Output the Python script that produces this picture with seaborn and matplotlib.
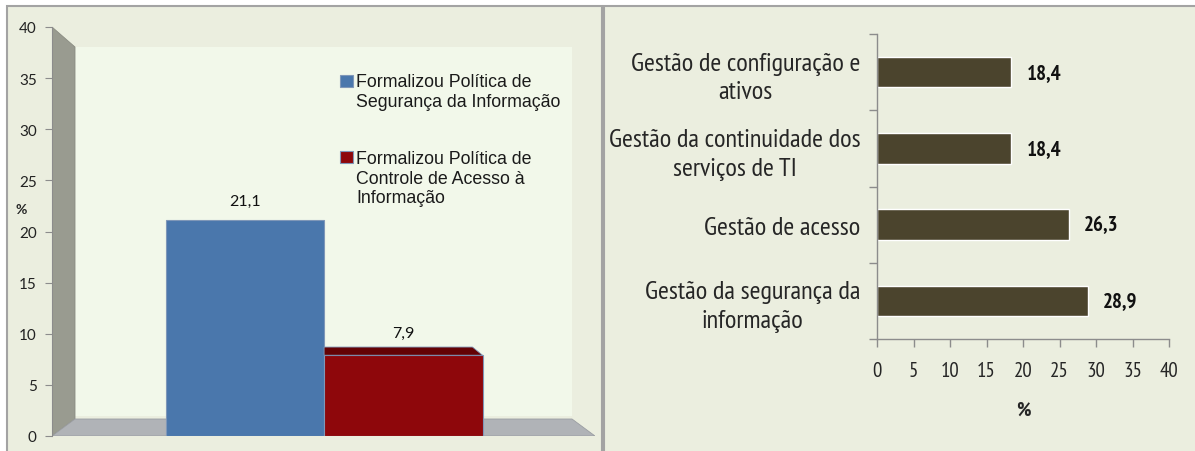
import matplotlib
matplotlib.use("Agg")
import matplotlib.pyplot as plt
import matplotlib.patches as mpatches
from matplotlib.legend_handler import HandlerBase
import numpy as np
import pandas as pd
import seaborn as sns

# data
left_series = ["Formalizou Política de\nSegurança da Informação",
               "Formalizou Política de\nControle de Acesso à\nInformação"]
left_values = [21.1, 7.9]
left_colors = ["#4A77AC", "#8E070B"]

right_categories = ["Gestão de configuração e\nativos",
                    "Gestão da continuidade dos\nserviços de TI",
                    "Gestão de acesso",
                    "Gestão da segurança da\ninformação"]
right_values = [18.4, 18.4, 26.3, 28.9]
right_color = "#4B442D"

y_ticks_left = [0, 5, 10, 15, 20, 25, 30, 35, 40]
x_ticks_right = [0, 5, 10, 15, 20, 25, 30, 35, 40]

W, H = 1195, 452
sns.set_theme(style="white")
plt.rcParams["font.family"] = ["Liberation Sans", "DejaVu Sans"]

fig = plt.figure(figsize=(W / 100, H / 100), dpi=100, facecolor="white")

def rect(l, t, r, b):
    return [l / W, 1 - b / H, (r - l) / W, (b - t) / H]

panel_bg = "#EBEEDF"
# panel backgrounds
fig.patches.append(mpatches.Rectangle((7 / W, -0.01), (602 - 7) / W, 1 - 7 / H + 0.01,
                                      transform=fig.transFigure, facecolor=panel_bg,
                                      edgecolor="#A3A3A3", linewidth=1.5, zorder=-5))
fig.patches.append(mpatches.Rectangle((604 / W, -0.01), (1200 - 604) / W, 1 - 7 / H + 0.01,
                                      transform=fig.transFigure, facecolor=panel_bg,
                                      edgecolor="#A3A3A3", linewidth=1.5, zorder=-5))

# ---------- left chart ----------
ax1 = fig.add_axes(rect(52, 28, 595, 437))
ax1.patch.set_alpha(0)
df_left = pd.DataFrame({"grupo": ["", ""], "serie": left_series, "valor": left_values})
sns.barplot(data=df_left, x="grupo", y="valor", hue="serie", palette=left_colors,
            width=0.8, saturation=1, edgecolor="#7F97B8", linewidth=0.8, ax=ax1, zorder=3,
            legend=False)
ax1.set_xlim(-0.687, 0.684)
ax1.set_ylim(0, 40)

# 3d box: side wall, back wall, floor (axes coords)
dx, dy = 23 / 543, 20 / 409
T = ax1.transAxes
ax1.add_patch(mpatches.Polygon([(dx, dy), (1 - dx, dy), (1 - dx, 1 - dy), (dx, 1 - dy)],
                               closed=True, transform=T, facecolor="#F2F8EA", edgecolor="none", zorder=0))
ax1.add_patch(mpatches.Polygon([(0, 0), (dx, dy * 0.85), (dx, 1 - dy), (0, 1)],
                               closed=True, transform=T, facecolor="#999B90", edgecolor="#8A8C82",
                               linewidth=0.6, zorder=1))
ax1.add_patch(mpatches.Polygon([(0, 0), (1, 0), (1 - dx, dy * 0.85), (dx, dy * 0.85)],
                               closed=True, transform=T, facecolor="#B0B3B7", edgecolor="#9A9DA2",
                               linewidth=0.6, zorder=1))

# top face of the red bar
red = ax1.containers[1][0]
rx, rw, rh = red.get_x(), red.get_width(), red.get_height()
ddx = rw * 10 / 158
ddy = 0.8
ax1.add_patch(mpatches.Polygon([(rx, rh), (rx + rw, rh), (rx + rw - ddx, rh + ddy), (rx, rh + ddy)],
                               closed=True, facecolor="#640204", edgecolor="#7F97B8",
                               linewidth=0.6, zorder=3))

for c, pad in zip(ax1.containers, [9, 11]):
    ax1.bar_label(c, labels=[f"{v:.1f}".replace(".", ",") for v in c.datavalues],
                  padding=pad, fontsize=11.5, family=["Lato", "DejaVu Sans"], color="#111111")

ax1.set_yticks(y_ticks_left)
ax1.set_yticklabels([str(v) for v in y_ticks_left], family=["Lato", "DejaVu Sans"], fontsize=11)
ax1.set_xticks([])
ax1.set_xlabel("")
ax1.set_ylabel("%", rotation=0, fontsize=10, fontweight="bold", family=["Lato", "DejaVu Sans"])
ax1.yaxis.set_label_coords(-0.057, 0.54)
ax1.tick_params(axis="y", left=True, length=5, width=0.8, color="#8C8C8C", pad=6, labelcolor="#222222")
for s in ["top", "right", "bottom"]:
    ax1.spines[s].set_visible(False)
ax1.spines["left"].set_color("#8C8C8C")
ax1.spines["left"].set_linewidth(0.8)


# legend square sits on the first line of its label
class FirstLineHandler(HandlerBase):
    def __init__(self, nlines, step):
        super().__init__()
        self.nlines = nlines
        self.step = step

    def create_artists(self, legend, orig_handle, xdescent, ydescent, width, height, fontsize, trans):
        shift = (self.nlines - 1) / 2 * self.step * fontsize
        r = mpatches.Rectangle((-xdescent, -ydescent + shift), width, height,
                               facecolor=orig_handle.get_facecolor(), edgecolor="#7F97B8",
                               linewidth=0.8, transform=trans)
        return [r]


leg_fs = 12.8
leg_ls = 1.18
handles = [mpatches.Patch(facecolor=c) for c in left_colors]
hmap = {h: FirstLineHandler(lab.count("\n") + 1, leg_ls * 1.02) for h, lab in zip(handles, left_series)}
leg = ax1.legend(handles, left_series, handler_map=hmap, loc="upper left",
                 bbox_to_anchor=(0.531, 0.887), frameon=False,
                 fontsize=leg_fs, handlelength=0.7, handleheight=0.7, handletextpad=0.2,
                 labelspacing=2.3, borderpad=0, borderaxespad=0)
for t in leg.get_texts():
    t.set_color("#1A1A1A")
    t.set_linespacing(leg_ls)

# ---------- right chart ----------
narrow = ["PT Sans Narrow", "Roboto Condensed", "Archivo Narrow", "DejaVu Sans"]
ax2 = fig.add_axes(rect(877, 35, 1169, 340))
ax2.patch.set_alpha(0)
df_right = pd.DataFrame({"categoria": right_categories, "valor": right_values})
sns.barplot(data=df_right, x="valor", y="categoria", orient="h", color=right_color,
            width=0.4, saturation=1, ax=ax2)
ax2.set_xlim(0, 40)
ax2.set_ylim(3.5, -0.5)
ax2.set_xticks(x_ticks_right)
ax2.set_xticklabels([str(v) for v in x_ticks_right], family=narrow, fontsize=15)
ax2.set_yticks(range(len(right_categories)))
ax2.set_yticklabels(right_categories, family=narrow, fontsize=19, multialignment="center",
                    linespacing=1.32)
ax2.set_yticks(np.arange(-0.5, len(right_categories)), minor=True)
ax2.tick_params(axis="y", which="major", length=0, pad=12)
ax2.tick_params(axis="y", which="minor", left=True, length=6, width=1, color="#8C8C8C")
ax2.tick_params(axis="x", bottom=True, length=6, width=1, color="#8C8C8C", pad=10)
ax2.set_ylabel("")
ax2.set_xlabel("%", family=narrow, fontsize=14.5, fontweight="bold", labelpad=15)
for s in ["top", "right"]:
    ax2.spines[s].set_visible(False)
for s in ["left", "bottom"]:
    ax2.spines[s].set_color("#8C8C8C")
    ax2.spines[s].set_linewidth(1)

ax2.bar_label(ax2.containers[0], labels=[f"{v:.1f}".replace(".", ",") for v in right_values],
              padding=11, family=narrow, fontsize=15, fontweight="bold", color="#111111")

fig.savefig("out.png", dpi=100, facecolor="white")
